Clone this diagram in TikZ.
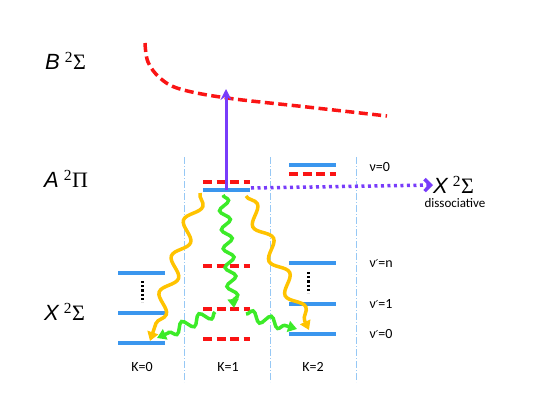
\documentclass[tikz,border=0pt]{standalone}
\usepackage{fontspec}
\setmainfont{Liberation Serif}
\newfontfamily\arialf{Liberation Sans}
\newfontfamily\calf{Carlito}
\newfontfamily\djv{DejaVu Sans}
\usetikzlibrary{arrows.meta,decorations.pathmorphing}
\definecolor{lvlblue}{RGB}{58,150,238}
\definecolor{lvlred}{RGB}{250,20,20}
\definecolor{wyellow}{RGB}{255,195,0}
\definecolor{wgreen}{RGB}{60,235,40}
\definecolor{vpurple}{RGB}{120,60,250}
\definecolor{sepblue}{RGB}{150,200,245}
\newcommand{\prm}{{\djv\fontsize{11}{14}\selectfont ′}}
\tikzset{
  bluelvl/.style={draw=lvlblue,line width=3.5pt},
  redlvl/.style={draw=lvlred,line width=3.5pt,dash pattern=on 9pt off 4.5pt},
  sepline/.style={draw=sepblue,line width=0.8pt,dash pattern=on 7pt off 2pt on 1pt off 2pt},
  vdots/.style={draw=black,line width=3pt,dash pattern=on 2.2pt off 2pt},
  yellowwave/.style={draw=wyellow,line width=3.5pt,-{Triangle[length=9pt,width=11pt]},
    decorate,decoration={snake,amplitude=7pt,segment length=38pt,post length=8pt}},
  greenwave/.style={draw=wgreen,line width=3.5pt,-{Triangle[length=9pt,width=11pt]},
    decorate,decoration={snake,amplitude=5pt,segment length=19pt,post length=6pt}},
  kl/.style={font=\calf\fontsize{14}{16}\selectfont},
  vl/.style={font=\calf\fontsize{14}{16}\selectfont,anchor=west},
  statel/.style={font=\fontsize{22}{26}\selectfont,anchor=west,inner sep=0pt}
}
\begin{document}
\begin{tikzpicture}[x=1pt,y=-1pt]
\useasboundingbox (0,0) rectangle (540,417);
% separators
\foreach \n/\x in {s1/184,s2/270,s3/356}{
  \coordinate (\n t) at (\x,157);
  \coordinate (\n b) at (\x,382);
  \draw[sepline] (\n t) -- (\n b);
}
% state labels
\node[statel] (B) at (45,61) {{\arialf\itshape B}\hspace{5pt}\textsuperscript{2}Σ};
\node[statel] (A) at (44,179) {{\arialf\itshape A}\hspace{5pt}\textsuperscript{2}Π};
\node[statel] (X) at (44,312) {{\arialf\itshape X}\hspace{5pt}\textsuperscript{2}Σ};
\node[statel] (Xd) at (433,185) {{\arialf\itshape X}\hspace{5pt}\textsuperscript{2}Σ};
\node[font=\calf\fontsize{13}{15}\selectfont] (diss) at (455,203) {dissociative};
% K=0 levels
\coordinate (k0a1) at (118,273); \coordinate (k0a2) at (165,273);
\coordinate (k0b1) at (118,313); \coordinate (k0b2) at (165,313);
\coordinate (k0c1) at (118,343); \coordinate (k0c2) at (165,343);
\draw[bluelvl] (k0a1) -- (k0a2);
\draw[bluelvl] (k0b1) -- (k0b2);
\draw[bluelvl] (k0c1) -- (k0c2);
\coordinate (d0t) at (142,281); \coordinate (d0b) at (142,302);
\draw[vdots] (d0t) -- (d0b);
% K=1 levels
\coordinate (k1r0a) at (203,182); \coordinate (k1r0b) at (250,182);
\coordinate (k1b0a) at (203,190); \coordinate (k1b0b) at (250,190);
\coordinate (k1r1a) at (203,266); \coordinate (k1r1b) at (250,266);
\coordinate (k1r2a) at (203,309); \coordinate (k1r2b) at (250,309);
\coordinate (k1r3a) at (203,339); \coordinate (k1r3b) at (250,339);
\draw[redlvl] (k1r0a) -- (k1r0b);
\draw[redlvl] (k1r1a) -- (k1r1b);
\draw[redlvl] (k1r2a) -- (k1r2b);
\draw[redlvl] (k1r3a) -- (k1r3b);
% K=2 levels
\coordinate (k2b0a) at (289,165); \coordinate (k2b0b) at (336,165);
\coordinate (k2r0a) at (289,174); \coordinate (k2r0b) at (336,174);
\coordinate (k2na) at (289,263); \coordinate (k2nb) at (336,263);
\coordinate (k2oa) at (289,304); \coordinate (k2ob) at (336,304);
\coordinate (k2za) at (289,334); \coordinate (k2zb) at (336,334);
\draw[bluelvl] (k2b0a) -- (k2b0b);
\draw[redlvl] (k2r0a) -- (k2r0b);
\draw[bluelvl] (k2na) -- (k2nb);
\draw[bluelvl] (k2oa) -- (k2ob);
\draw[bluelvl] (k2za) -- (k2zb);
\coordinate (d2t) at (308,272); \coordinate (d2b) at (308,293);
\draw[vdots] (d2t) -- (d2b);
% level labels
\node[vl] (v0) at (366,167) {ν=0};
\node[vl] (vn) at (366,263) {ν\prm=n};
\node[vl] (v1) at (366,304) {ν\prm=1};
\node[vl] (vz) at (366,334) {ν\prm=0};
\node[kl] (K0) at (142,367) {K=0};
\node[kl] (K1) at (228,367) {K=1};
\node[kl] (K2) at (313,367) {K=2};
% B state curve
\draw[draw=lvlred,line width=3.5pt,dash pattern=on 9pt off 4.5pt]
  plot[smooth,tension=0.6] coordinates {(145,43) (148,62) (160,78) (180,89) (227,98) (307,107) (387,116)};
% wavy transitions
\coordinate (y1s) at (200,193); \coordinate (y1e) at (150,341);
\coordinate (y2s) at (246,196); \coordinate (y2e) at (309,330);
\draw[yellowwave] (y1s) -- (y1e);
\draw[yellowwave] (y2s) -- (y2e);
\coordinate (g1s) at (223,195); \coordinate (g1e) at (234,308);
\coordinate (g2s) at (215,312); \coordinate (g2e) at (157,338);
\coordinate (g3s) at (246,314); \coordinate (g3e) at (297,329);
\draw[greenwave] (g1s) -- (g1e);
\draw[greenwave] (g2s) -- (g2e);
\draw[greenwave] (g3s) -- (g3e);
% blue level K=1 on top of waves' origin
\draw[bluelvl] (k1b0a) -- (k1b0b);
% excitation arrows
\coordinate (ex0) at (226,190); \coordinate (ex1) at (226,89);
\draw[vpurple,line width=3pt,-{Stealth[length=11pt,width=11pt,inset=4pt]}] (ex0) -- (ex1);
\coordinate (dd0) at (251,188);
\draw[vpurple,line width=3.5pt,dash pattern=on 3pt off 3.5pt,-{Straight Barb[length=6pt,width=12pt]}] (dd0) -- (Xd.west);
\end{tikzpicture}
\end{document}
